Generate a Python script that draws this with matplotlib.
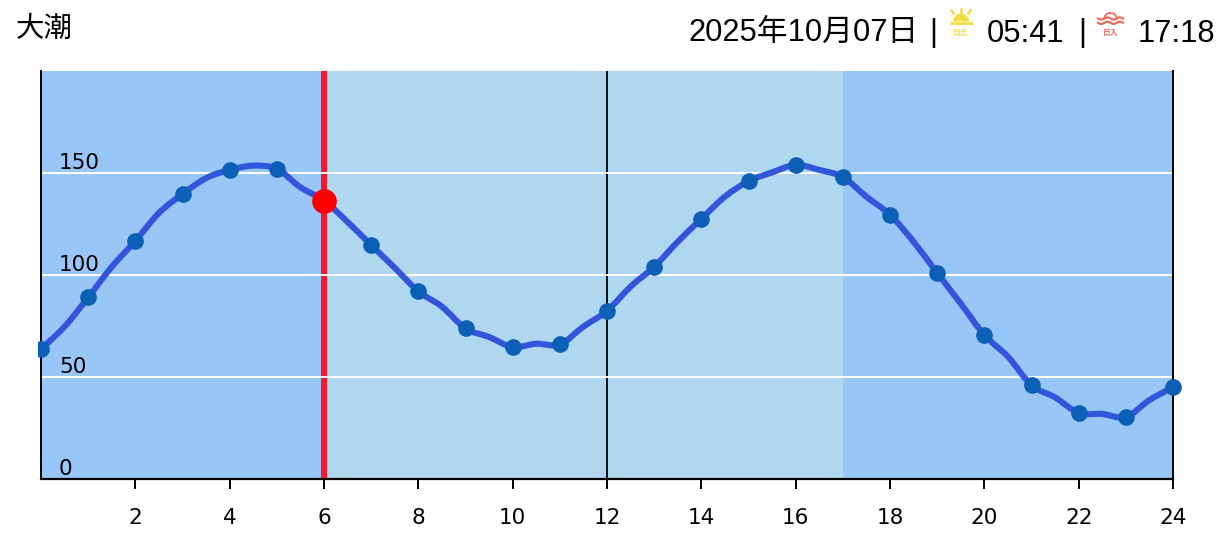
import matplotlib
matplotlib.use('Agg')
import matplotlib.pyplot as plt
import numpy as np
from matplotlib.patches import Wedge, Rectangle, PathPatch
from matplotlib.path import Path

plt.rcParams['font.family'] = ['Liberation Sans', 'Noto Sans CJK JP', 'DejaVu Sans']

# hourly tide heights (markers)
hours = list(range(25))
tide = [63.7, 89, 116.7, 139.7, 151.5, 152, 136.5, 114.7, 92, 73.8, 64.7, 66, 82.4,
        104, 127.5, 146, 154, 148, 129.5, 101, 70.6, 46, 32.4, 30.4, 45]

# half hour readings, these shape the line between the markers
half_hours = [0.5, 1.5, 2.5, 3.5, 4.5, 5.5, 6.5, 7.5, 8.5, 9.5, 10.5, 11.5, 12.5,
              13.5, 14.5, 15.5, 16.5, 17.5, 18.5, 19.5, 20.5, 21.5, 22.5, 23.5]
tide_half = [74.7, 104, 130.4, 147.5, 153.6, 143, 126, 103.5, 84.5, 69.6, 66.3, 74.7, 94.3,
             116.3, 138.4, 150.3, 151.5, 138.4, 116.3, 86, 60, 40, 31.9, 38.7]

now_hour = 6
now_tide = 136.5
day_start = 6
day_end = 17
grid_vals = [50, 100, 150]
y_labels = [0, 50, 100, 150]
x_ticks = list(range(2, 25, 2))

W, H = 1231, 550
DARK = '#98C7F7'
LIGHT = '#B0D7F0'
YELLOW = '#F4DC45'
CORAL = '#EE6C58'

fig = plt.figure(figsize=(W / 100, H / 100), dpi=100)
ax = fig.add_axes([41 / W, (H - 479) / H, 1132 / W, 408 / H])
ax.set_xlim(0, 24)
ax.set_ylim(0, 200)

# day / night bands
ax.axvspan(0, 24, color=DARK, lw=0, zorder=0)
ax.axvspan(day_start, day_end, color=LIGHT, lw=0, zorder=0.5)

ax.axvline(now_hour, color='#FF1428', lw=4.3, zorder=1)
ax.axvline(12, color='black', lw=1.3, zorder=1)
for g in grid_vals:
    ax.axhline(g, color='white', lw=1.4, zorder=2)

# merge hourly and half hourly readings for the line
line_x = np.concatenate([hours, half_hours])
line_y = np.concatenate([tide, tide_half])
order = np.argsort(line_x)
px = line_x[order]
py = line_y[order]

# rounded line through the readings, bezier handles from the neighbours
verts = [(px[0], py[0])]
codes = [Path.MOVETO]
for i in range(len(px) - 1):
    a = max(i - 1, 0)
    b = min(i + 2, len(px) - 1)
    verts.append((px[i] + (px[i + 1] - px[a]) / 6, py[i] + (py[i + 1] - py[a]) / 6))
    verts.append((px[i + 1] - (px[b] - px[i]) / 6, py[i + 1] - (py[b] - py[i]) / 6))
    verts.append((px[i + 1], py[i + 1]))
    codes += [Path.CURVE4, Path.CURVE4, Path.CURVE4]
ax.add_patch(PathPatch(Path(verts, codes), fc='none', ec='#3355DC', lw=4.4, capstyle='round', joinstyle='round', zorder=3))

# left edge markers get cut slightly outside the axes
clip = Rectangle((37.5 / W, 0), 1, 1, transform=fig.transFigure)
pts = ax.plot(hours, tide, 'o', color='#0B5FB4', ms=12, mew=0, zorder=4, clip_on=True)[0]
pts.set_clip_path(clip)
ax.plot([now_hour], [now_tide], 'o', color='#FF0000', ms=17.8, mew=0, zorder=5)

for s in ['top', 'right', 'left', 'bottom']:
    ax.spines[s].set_color('black')
ax.spines['top'].set_visible(False)
ax.spines['left'].set_linewidth(1.4)
ax.spines['right'].set_linewidth(1.4)
ax.spines['bottom'].set_linewidth(1.6)
ax.set_yticks([])
ax.set_xticks(x_ticks)
ax.set_xticklabels(x_ticks, family='DejaVu Sans', fontsize=15.5)
ax.tick_params(axis='x', length=7.2, width=1.4, pad=13.5, color='black')

for v in y_labels:
    ax.text(18 / 47.17, v + 2, str(v), family='DejaVu Sans', fontsize=15.5, ha='left', va='baseline', zorder=6)

# header row and icons, drawn in pixel coords
ov = fig.add_axes([0, 0, 1, 1], facecolor='none')
ov.set_xlim(0, W)
ov.set_ylim(H, 0)
ov.axis('off')

ov.text(16, 30, '大潮', fontsize=20.5, ha='left', va='center')
ov.text(688, 33.5, '2025年10月07日', fontsize=22.2, ha='left', va='center')
ov.text(933, 33.5, '|', fontsize=22.2, ha='center', va='center')
ov.text(987, 33.5, '05:41', fontsize=22.2, ha='left', va='center')
ov.text(1082, 33.5, '|', fontsize=22.2, ha='center', va='center')
ov.text(1138, 33.5, '17:18', fontsize=22.2, ha='left', va='center')

# sunrise icon
ov.add_patch(Wedge((961, 21.5), 8, 180, 360, color=YELLOW, lw=0))
ov.plot([949.5, 972.5], [22.8, 22.8], color=YELLOW, lw=2, solid_capstyle='butt')
for x0, y0, x1, y1 in [(961, 8.5, 961, 12), (951.5, 10.5, 953.5, 13.5), (970.5, 10.5, 968.5, 13.5)]:
    ov.plot([x0, x1], [y0, y1], color=YELLOW, lw=1.8)
ov.text(961, 32.5, '日出', fontsize=5.6, family='Noto Sans CJK JP', color=YELLOW, ha='center', va='center', fontweight='bold')

# sunset icon
ov.add_patch(Wedge((1110.5, 19.5), 7.5, 180, 360, width=1.8, color=CORAL, lw=0))
wave_x = np.linspace(1098, 1123, 50)
for wy in [18.5, 22.8]:
    ov.plot(wave_x, wy + 1.1 * np.sin((wave_x - 1098) / 25 * 4 * np.pi), color=CORAL, lw=1.6)
ov.text(1110.5, 32.5, '日入', fontsize=5.6, family='Noto Sans CJK JP', color=CORAL, ha='center', va='center', fontweight='bold')

plt.savefig('out.png', dpi=100)
